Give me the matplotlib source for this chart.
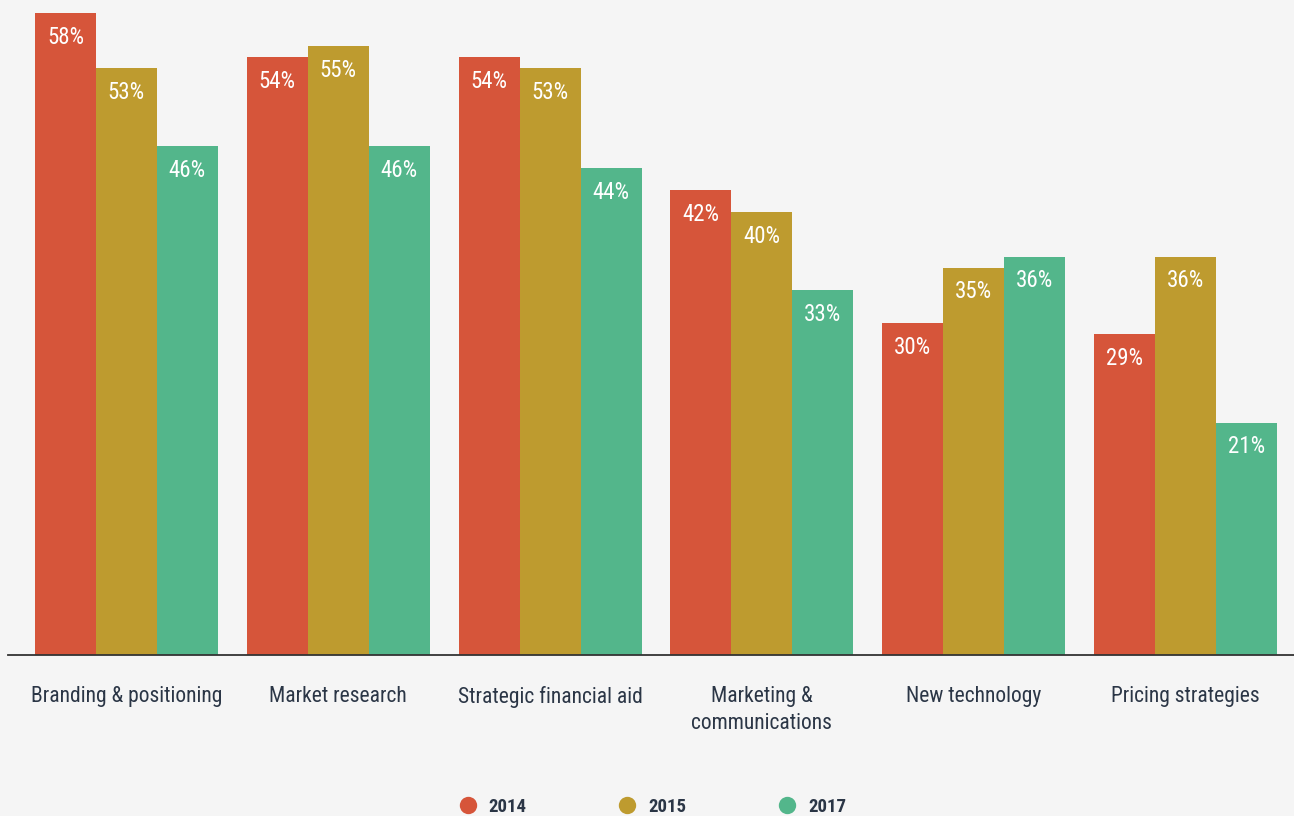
import matplotlib
matplotlib.use("Agg")
import matplotlib.pyplot as plt
from matplotlib import font_manager as fm
from matplotlib.lines import Line2D
import numpy as np

categories = ["Branding & positioning", "Market research", "Strategic financial aid",
              "Marketing &\ncommunications", "New technology", "Pricing strategies"]
years = ["2014", "2015", "2017"]
vals_2014 = [58, 54, 54, 42, 30, 29]
vals_2015 = [53, 55, 53, 40, 35, 36]
vals_2017 = [46, 46, 44, 33, 36, 21]
series = [vals_2014, vals_2015, vals_2017]
colors = ["#d6553a", "#be9b2f", "#53b68b"]

# pick the narrowest sans face on the system
names = {f.name for f in fm.fontManager.ttflist}
condensed = {(f.name, f.stretch) for f in fm.fontManager.ttflist}
FONT, STRETCH = "DejaVu Sans", "normal"
for cand in ["Roboto Condensed", "Liberation Sans Narrow", "Open Sans Condensed"]:
    if cand in names:
        FONT = cand
        break
else:
    if ("DejaVu Sans", "condensed") in condensed:
        STRETCH = "condensed"
    elif "Roboto" in names:
        FONT = "Roboto"

plt.rcParams["font.family"] = [FONT, "DejaVu Sans"]
TEXT_COLOR = "#2b3646"
BG = "#f5f5f5"

W, H = 1294, 816
fig = plt.figure(figsize=(W / 100, H / 100), dpi=100, facecolor=BG)
left_px, right_px, bottom_px, top_px = 8, 1294, 655, 13
ax = fig.add_axes([left_px / W, 1 - bottom_px / H,
                   (right_px - left_px) / W, (bottom_px - top_px) / H])
ax.set_facecolor(BG)

bw = 0.288
x = np.arange(len(categories))
for k, (vals, col) in enumerate(zip(series, colors)):
    pos = x + (k - 1) * bw
    bars = ax.bar(pos, vals, width=bw, color=col, linewidth=0, clip_on=False)
    for b, v in zip(bars, vals):
        ax.text(b.get_x() + b.get_width() / 2, v - 2.2, f"{v}%",
                ha="center", va="center", color="white", fontsize=16.5,
                fontstretch=STRETCH)

ax.set_xlim(-0.559, 5.512)
ax.set_ylim(0, 58)
for s in ["top", "right", "left"]:
    ax.spines[s].set_visible(False)
ax.spines["bottom"].set_color("#333333")
ax.spines["bottom"].set_linewidth(1.3)
ax.set_yticks([])
ax.set_xticks(x)
ax.set_xticklabels(categories, fontsize=15.5, color=TEXT_COLOR, linespacing=1.38,
                   fontstretch=STRETCH)
ax.tick_params(axis="x", length=0, pad=22)

handles = [Line2D([], [], marker="o", linestyle="none", markersize=12.5,
                  markerfacecolor=c, markeredgewidth=0) for c in colors]
fig.legend(handles, years, loc="center",
           bbox_to_anchor=(653 / W, 1 - 807 / H), ncol=3, frameon=False,
           labelcolor=TEXT_COLOR, handlelength=0.8,
           handletextpad=0.7, columnspacing=5.0, borderpad=0,
           prop={"family": [FONT, "DejaVu Sans"], "size": 13.5, "weight": "bold",
                 "stretch": STRETCH})

fig.savefig("out.png", dpi=100, facecolor=BG)
